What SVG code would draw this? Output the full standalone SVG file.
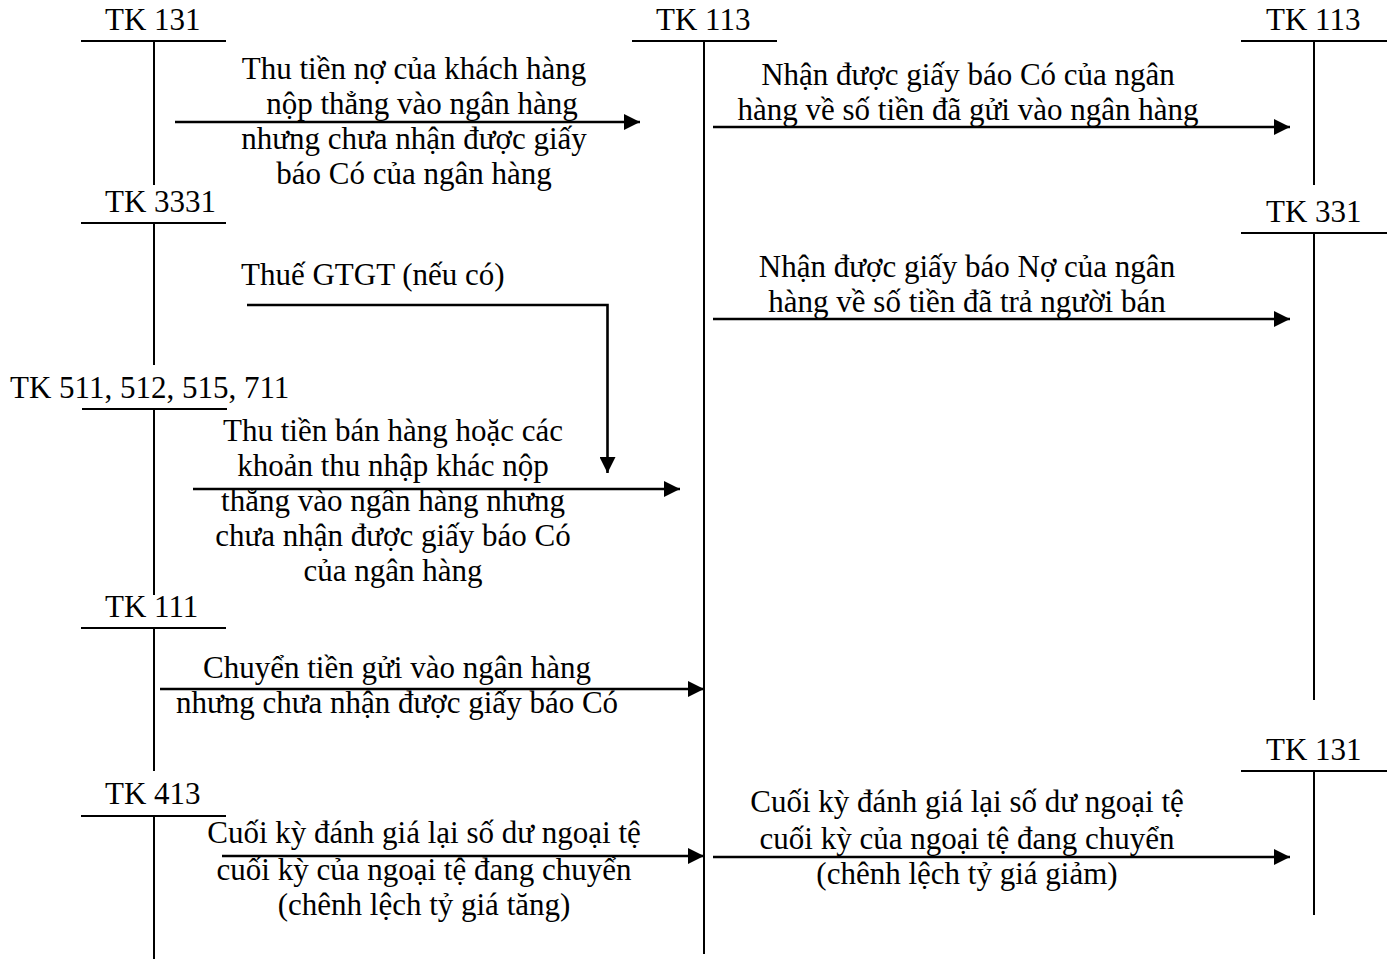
<svg xmlns="http://www.w3.org/2000/svg" width="1393" height="959" viewBox="0 0 1393 959">
<style>
text{font-family:"Liberation Serif","Times New Roman",serif;font-size:31px;fill:#000}
.c{text-anchor:middle}
.t{stroke:#000;stroke-width:2;fill:none}
.a{stroke:#000;stroke-width:2.6;fill:none;marker-end:url(#ah)}
</style>
<defs>
<marker id="ah" markerUnits="userSpaceOnUse" markerWidth="16" markerHeight="16" refX="16" refY="8" orient="auto">
<path d="M0,0 L16,8 L0,16 Z" fill="#000"/>
</marker>
</defs>
<rect width="1393" height="959" fill="#fff"/>

<g id="tk131-left">
<text x="105" y="30">TK 131</text>
<line class="t" x1="81" y1="41" x2="226" y2="41"/>
<line class="t" x1="154" y1="41" x2="154" y2="185"/>
</g>
<g id="tk113-mid">
<text x="656" y="30">TK 113</text>
<line class="t" x1="632" y1="41" x2="777" y2="41"/>
<line class="t" x1="704" y1="41" x2="704" y2="954"/>
</g>
<g id="tk113-right">
<text x="1266" y="30">TK 113</text>
<line class="t" x1="1241" y1="41" x2="1387" y2="41"/>
<line class="t" x1="1314" y1="41" x2="1314" y2="185"/>
</g>
<g id="tk3331">
<text x="105" y="212">TK 3331</text>
<line class="t" x1="81" y1="223" x2="226" y2="223"/>
<line class="t" x1="154" y1="223" x2="154" y2="365"/>
</g>
<g id="tk331">
<text x="1266" y="222">TK 331</text>
<line class="t" x1="1241" y1="233" x2="1387" y2="233"/>
<line class="t" x1="1314" y1="233" x2="1314" y2="700"/>
</g>
<g id="tk511">
<text x="10" y="398">TK 511, 512, 515, 711</text>
<line class="t" x1="82" y1="409" x2="227" y2="409"/>
<line class="t" x1="154" y1="409" x2="154" y2="595"/>
</g>
<g id="tk111">
<text x="105" y="617">TK 111</text>
<line class="t" x1="81" y1="628" x2="226" y2="628"/>
<line class="t" x1="154" y1="628" x2="154" y2="771"/>
</g>
<g id="tk413">
<text x="105" y="804">TK 413</text>
<line class="t" x1="81" y1="816" x2="226" y2="816"/>
<line class="t" x1="154" y1="816" x2="154" y2="959"/>
</g>
<g id="tk131-right">
<text x="1266" y="760">TK 131</text>
<line class="t" x1="1241" y1="771" x2="1387" y2="771"/>
<line class="t" x1="1314" y1="771" x2="1314" y2="915"/>
</g>

<g id="connectors">
<line class="a" x1="175" y1="122" x2="640" y2="122"/>
<line class="a" x1="713" y1="127" x2="1290" y2="127"/>
<polyline class="a" points="247,305 607.5,305 607.5,473"/>
<line class="a" x1="713" y1="319" x2="1290" y2="319"/>
<line class="a" x1="193" y1="489" x2="680" y2="489"/>
<line class="a" x1="160" y1="689" x2="704" y2="689"/>
<line class="a" x1="222" y1="856" x2="704" y2="856"/>
<line class="a" x1="713" y1="857" x2="1290" y2="857"/>
</g>

<g id="labels">
<text class="c" x="414" y="79">Thu tiền nợ của khách hàng</text>
<text class="c" x="422" y="114">nộp thẳng vào ngân hàng</text>
<text class="c" x="414" y="149">nhưng chưa nhận được giấy</text>
<text class="c" x="414" y="184">báo Có của ngân hàng</text>

<text class="c" x="968" y="85">Nhận được giấy báo Có của ngân</text>
<text class="c" x="968" y="120">hàng về số tiền đã gửi vào ngân hàng</text>

<text x="241" y="285">Thuế GTGT (nếu có)</text>

<text class="c" x="967" y="277">Nhận được giấy báo Nợ của ngân</text>
<text class="c" x="967" y="312">hàng về số tiền đã trả người bán</text>

<text class="c" x="393" y="441">Thu tiền bán hàng hoặc các</text>
<text class="c" x="393" y="476">khoản thu nhập khác nộp</text>
<text class="c" x="393" y="511">thẳng vào ngân hàng nhưng</text>
<text class="c" x="393" y="546">chưa nhận được giấy báo Có</text>
<text class="c" x="393" y="581">của ngân hàng</text>

<text class="c" x="397" y="678">Chuyển tiền gửi vào ngân hàng</text>
<text class="c" x="397" y="713">nhưng chưa nhận được giấy báo Có</text>

<text class="c" x="424" y="843">Cuối kỳ đánh giá lại số dư ngoại tệ</text>
<text class="c" x="424" y="880">cuối kỳ của ngoại tệ đang chuyển</text>
<text class="c" x="424" y="915">(chênh lệch tỷ giá tăng)</text>

<text class="c" x="967" y="812">Cuối kỳ đánh giá lại số dư ngoại tệ</text>
<text class="c" x="967" y="849">cuối kỳ của ngoại tệ đang chuyển</text>
<text class="c" x="967" y="884">(chênh lệch tỷ giá giảm)</text>
</g>
</svg>
